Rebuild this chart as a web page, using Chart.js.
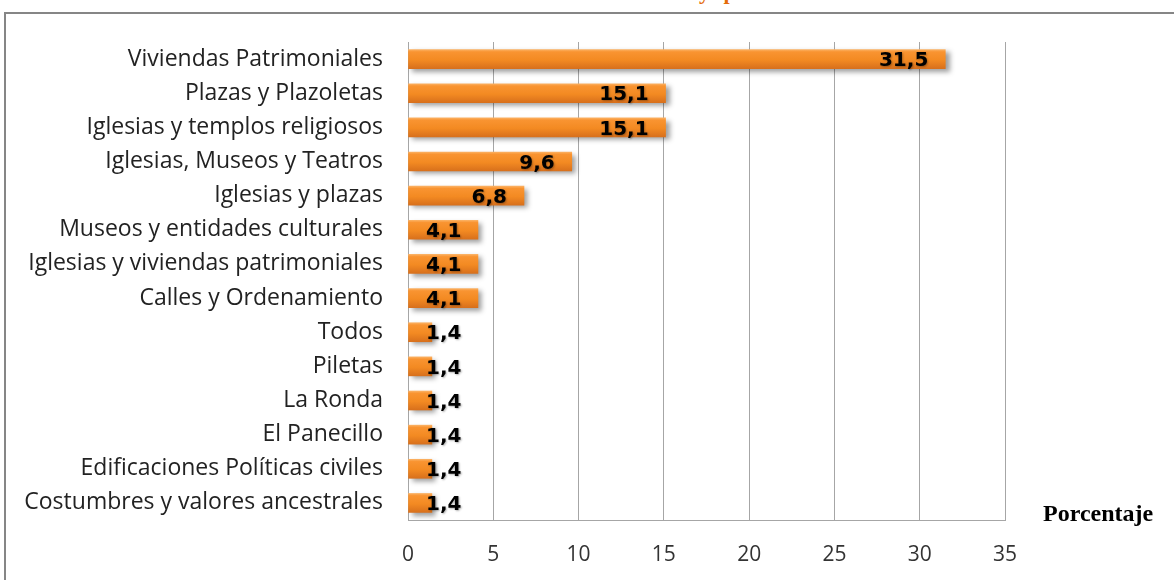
<!DOCTYPE html>
<html>
<head>
<meta charset="utf-8">
<script src="https://cdn.jsdelivr.net/npm/chart.js@4"></script>
<style>
  html, body { margin: 0; padding: 0; background: #fff; }
  #wrap { position: relative; width: 1174px; height: 580px; overflow: hidden; background: #fff; }
  #frame { position: absolute; left: 4px; top: 12px; width: 1300px; height: 700px;
           border-top: 2px solid #868686; border-left: 2px solid #868686; }
  #title { position: absolute; left: 699px; top: -21px; font: bold 22px "Liberation Serif", serif; color: #E46C0A; letter-spacing: 4px; }
  #axisTitle { position: absolute; left: 1043px; top: 500px; font: bold 24px "Liberation Serif", serif; color: #000; }
  canvas { position: absolute; left: 0; top: 0; }
</style>
</head>
<body>
<div id="wrap">
  <div id="frame"></div>
  <div id="title">y p</div>
  <canvas id="chart" width="1174" height="580"></canvas>
  <div id="axisTitle">Porcentaje</div>
</div>
<script>
// ---- data ----
const categories = [
  'Viviendas Patrimoniales',
  'Plazas y Plazoletas',
  'Iglesias y templos religiosos',
  'Iglesias, Museos y Teatros',
  'Iglesias y plazas',
  'Museos y entidades culturales',
  'Iglesias y viviendas patrimoniales',
  'Calles y Ordenamiento',
  'Todos',
  'Piletas',
  'La Ronda',
  'El Panecillo',
  'Edificaciones Políticas civiles',
  'Costumbres y valores ancestrales'
];
const percentages = [31.5, 15.1, 15.1, 9.6, 6.8, 4.1, 4.1, 4.1, 1.4, 1.4, 1.4, 1.4, 1.4, 1.4];
const xMin = 0, xMax = 35, xStep = 5;

const BAR_H = 19;

// orange gradient per bar (light top -> dark bottom)
function barFill(c) {
  const chart = c.chart;
  if (!chart.chartArea) return '#F58A1F';
  const y = chart.scales.y.getPixelForValue(c.dataIndex);
  const g = chart.ctx.createLinearGradient(0, y - BAR_H / 2, 0, y + BAR_H / 2);
  g.addColorStop(0, '#FBB163');
  g.addColorStop(0.12, '#F99431');
  g.addColorStop(0.55, '#F38A22');
  g.addColorStop(1, '#D8701C');
  return g;
}

// drop shadow under the bars
const barShadow = {
  id: 'barShadow',
  beforeDatasetsDraw(chart) {
    const ctx = chart.ctx;
    ctx.save();
    ctx.shadowColor = 'rgba(0,0,0,0.38)';
    ctx.shadowBlur = 5;
    ctx.shadowOffsetX = 4;
    ctx.shadowOffsetY = 3;
  },
  afterDatasetsDraw(chart) {
    chart.ctx.restore();
  }
};

// value labels, inside end of the bar
const valueLabels = {
  id: 'valueLabels',
  afterDraw(chart) {
    const ctx = chart.ctx;
    const meta = chart.getDatasetMeta(0);
    ctx.save();
    ctx.font = 'bold 20px "DejaVu Sans"';
    ctx.fillStyle = '#000';
    ctx.textBaseline = 'middle';
    ctx.textAlign = 'left';
    ctx.shadowColor = 'rgba(0,0,0,0.3)';
    ctx.shadowBlur = 2;
    ctx.shadowOffsetX = 1;
    ctx.shadowOffsetY = 1;
    meta.data.forEach((bar, i) => {
      const txt = percentages[i].toFixed(1).replace('.', ',');
      const w = ctx.measureText(txt).width;
      let x = bar.x - 17 - w;
      if (x < chart.chartArea.left + 18) x = chart.chartArea.left + 18;
      ctx.fillText(txt, x, bar.y + 2);
    });
    ctx.restore();
  }
};

new Chart(document.getElementById('chart'), {
  type: 'bar',
  data: {
    labels: categories,
    datasets: [{
      data: percentages,
      backgroundColor: barFill,
      borderWidth: 0,
      barThickness: BAR_H
    }]
  },
  options: {
    indexAxis: 'y',
    responsive: false,
    animation: false,
    devicePixelRatio: 1,
    layout: { padding: { top: 42, right: 169, bottom: 0, left: 0 } },
    plugins: { legend: { display: false }, tooltip: { enabled: false } },
    scales: {
      x: {
        min: xMin, max: xMax,
        ticks: { stepSize: xStep, color: '#333', padding: 22, font: { family: 'Open Sans', size: 21 } },
        grid: { color: '#A6A6A6', lineWidth: 1, drawTicks: false },
        border: { color: '#A6A6A6' },
        afterFit(s) { s.height = 60; }
      },
      y: {
        ticks: { color: '#222', padding: 25, font: { family: 'Open Sans', size: 23 }, autoSkip: false },
        grid: { display: false, drawTicks: false },
        border: { display: true, color: '#A6A6A6' },
        afterFit(s) { s.width = 408; }
      }
    }
  },
  plugins: [barShadow, valueLabels]
});
</script>
</body>
</html>
